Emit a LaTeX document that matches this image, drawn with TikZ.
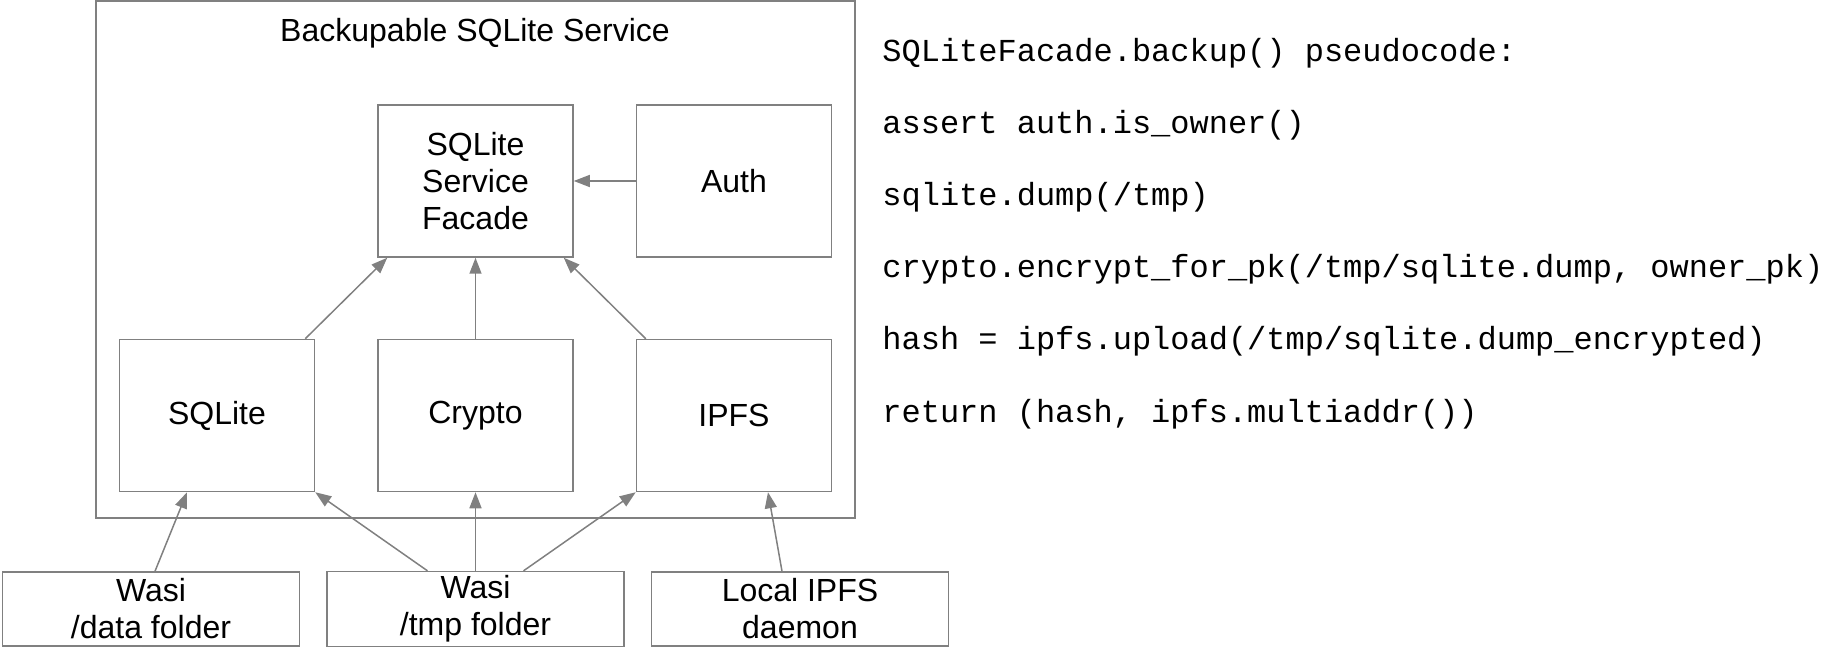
\documentclass[tikz,border=0pt]{standalone}
\usepackage{fontspec}
\setmainfont{Liberation Sans}
\setmonofont{Liberation Mono}
\usepackage{tikz}
\usetikzlibrary{arrows.meta,positioning}
\definecolor{linecol}{RGB}{128,128,128}

\begin{document}
\begin{tikzpicture}[
   x=1pt, y=1pt, >={Triangle[length=8pt,width=6pt]},
   node distance=31pt,
   box/.style={draw=linecol, line width=0.75pt, align=center,
               font=\fontsize{16}{18.5}\selectfont,
               minimum width=97.5pt, minimum height=76pt, inner sep=2pt},
   src/.style={box, minimum width=148.5pt, minimum height=37pt},
   dep/.style={->, line width=0.75pt, linecol},
   code/.style={anchor=base west, inner sep=0pt,
                font=\fontsize{16}{18}\ttfamily},
]
\useasboundingbox (0,0) rectangle (917,324);
% service frame
\node[draw=linecol, line width=0.75pt, minimum width=379.5pt,
      minimum height=258.5pt] (svc) at (237.75,194.25) {};
\node[font=\fontsize{16}{18}\selectfont, anchor=base] (title) at (237.5,303)
  {Backupable SQLite Service};
% upper row
\node[box] (facade) at (237.75,233.5) {SQLite\\Service\\Facade};
\node[box, right=of facade] (auth) {Auth};
% lower row
\node[box] (crypto) at (237.75,116.25) {Crypto};
\node[box, left=of crypto] (sqlite) {SQLite};
\node[box, right=of crypto] (ipfs) {IPFS};
% sources outside
\node[src] (wtmp) at (237.75,19.5) {Wasi\\/tmp folder};
\node[src, left=13pt of wtmp] (wdata) {Wasi\\/data folder};
\node[src, right=13pt of wtmp] (lipfs) {Local IPFS\\daemon};
% pseudocode
\node[code] (code1) at (441,293) {SQLiteFacade.backup() pseudocode:};
\node[code] (code2) at (441,257) {assert auth.is\_owner()};
\node[code] (code3) at (441,221) {sqlite.dump(/tmp)};
\node[code] (code4) at (441,185) {crypto.encrypt\_for\_pk(/tmp/sqlite.dump, owner\_pk)};
\node[code] (code5) at (441,149) {hash = ipfs.upload(/tmp/sqlite.dump\_encrypted)};
\node[code] (code6) at (441,113) {return (hash, ipfs.multiaddr())};
% edges
\draw[dep] (auth) -- (facade);
\draw[dep] ([xshift=-5pt]sqlite.north east) -- ([xshift=5pt]facade.south west);
\draw[dep] (crypto) -- (facade);
\draw[dep] ([xshift=5pt]ipfs.north west) -- ([xshift=-5pt]facade.south east);
\draw[dep] ([xshift=2pt]wdata.north) -- ([xshift=-15pt]sqlite.south);
\draw[dep] ([xshift=-24pt]wtmp.north) -- (sqlite.south east);
\draw[dep] (wtmp) -- (crypto);
\draw[dep] ([xshift=24pt]wtmp.north) -- (ipfs.south west);
\draw[dep] ([xshift=-9pt]lipfs.north) -- ([xshift=17pt]ipfs.south);
\end{tikzpicture}
\end{document}
